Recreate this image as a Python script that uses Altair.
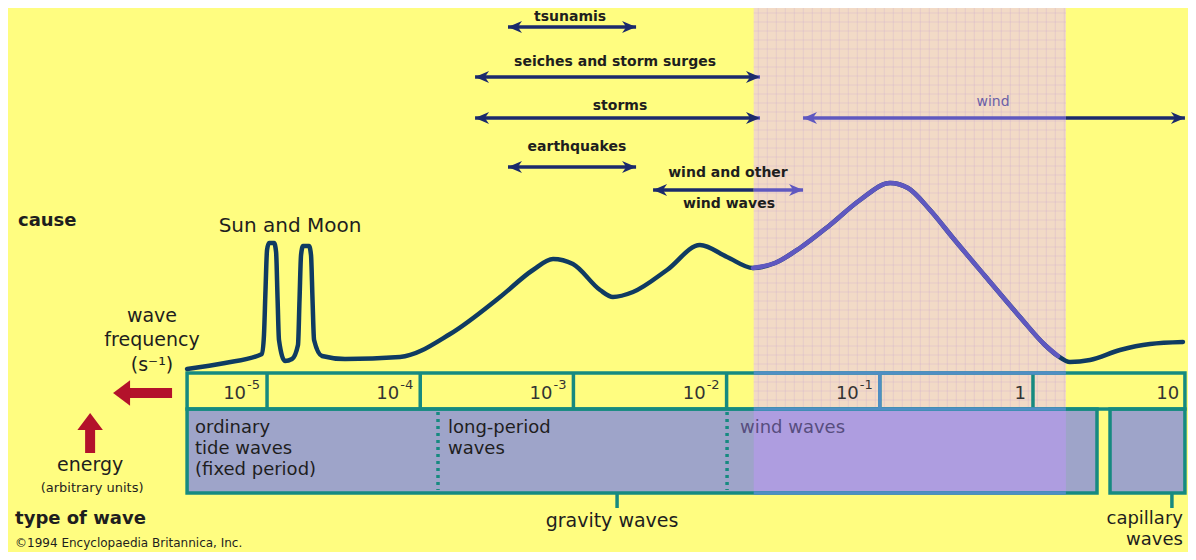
import altair as alt
import numpy as np
import pandas as pd

# x = log10(wave frequency / s^-1), y = energy (arbitrary units)
curve_logf = [-5.522, -5.274, -5.033, -5.020, -5.010, -5.000, -4.987, -4.954, -4.941, -4.931,
              -4.922, -4.883, -4.837, -4.798, -4.788, -4.778, -4.765, -4.726, -4.713, -4.703,
              -4.693, -4.641, -4.491, -4.132, -3.805, -3.479, -3.264, -3.133, -3.003, -2.826,
              -2.742, -2.611, -2.389, -2.174, -1.997, -1.828, -1.684, -1.521, -1.325, -1.129,
              -0.933, -0.816, -0.672, -0.522, -0.313, -0.085, 0.078, 0.163, 0.241, 0.372,
              0.568, 0.764, 0.979]
curve_energy = [3, 9, 18, 37, 82, 122, 129, 129, 120, 72,
                32, 11, 13, 27, 72, 117, 126, 126, 117, 72,
                32, 16, 13, 15, 38, 75, 102, 113, 108, 82,
                75, 80, 102, 127, 115, 104, 109, 124, 147, 172,
                189, 184, 162, 134, 96, 55, 27, 16, 10, 12,
                22, 28, 30]

tick_logf = [-5, -4, -3, -2, -1, 0, 1]
tick_base = ["10", "10", "10", "10", "10", "1", "10"]
tick_exp = ["-5", "-4", "-3", "-2", "-1", "", ""]
divider_logf = [-5, -4, -3, -2, -1, 0]

cause_from = [-3.427, -3.642, -3.642, -3.427, -2.480, -1.501]
cause_to = [-2.591, -1.782, -1.782, -2.591, -1.501, 0.992]
cause_level = [345, 295, 254, 205, 182, 254]

cause_text = ["tsunamis", "seiches and storm surges", "storms", "earthquakes",
              "wind and other", "wind waves"]
cause_text_x = [-3.022, -2.728, -2.696, -2.977, -1.991, -1.984]
cause_text_y = [355, 310, 266, 225, 199, 168]

wind_band = [-1.823, 0.215]
bar_ext = [-5.522, 0.992]
gravity_ext = [-5.522, 0.418]
capillary_ext = [0.503, 0.992]
type_dividers = [-3.884, -1.997]
bar_levels = [-1, -37, -121]   # top of scale bar, row separator, bottom of wave-type boxes

X_DOMAIN = [-6.691, 1.012]
Y_DOMAIN = [-180, 364]

BG = "#FFFD80"
PINK = "#F2DAC6"
GRID = "#C9A6CF"
BOXFILL = "#9EA4C9"
PURPLE_FILL = "#AE9DE0"
TEAL = "#168A80"
BLUE_LINE = "#4F8EC4"
NAVY = "#0F3B62"
ARROW = "#1B2A6C"
PURPLE = "#5F58C0"
RED = "#B3122B"
INK = "#1E1E1E"
FONT = "DejaVu Sans"

xs = alt.Scale(domain=X_DOMAIN, nice=False, zero=False)
ys = alt.Scale(domain=Y_DOMAIN, nice=False, zero=False)


def X(f="x"):
    return alt.X(f"{f}:Q", scale=xs, axis=None)


def Y(f="y"):
    return alt.Y(f"{f}:Q", scale=ys, axis=None)


layers = []

# shaded wind band with fine grid
band = pd.DataFrame({"x": [wind_band[0]], "x2": [wind_band[1]], "y": [bar_levels[1]], "y2": [Y_DOMAIN[1]]})
layers.append(alt.Chart(band).mark_rect(color=PINK).encode(x=X(), x2="x2:Q", y=Y(), y2="y2:Q"))
gv = pd.DataFrame({"x": np.arange(wind_band[0] + 0.03, wind_band[1], 9 / 153.2)})
gv["y"] = bar_levels[1]
gv["y2"] = Y_DOMAIN[1]
layers.append(alt.Chart(gv).mark_rule(color=GRID, strokeWidth=1, opacity=0.3).encode(x=X(), y=Y(), y2="y2:Q"))
gh = pd.DataFrame({"y": np.arange(bar_levels[1], Y_DOMAIN[1], 9)})
gh["x"] = wind_band[0]
gh["x2"] = wind_band[1]
layers.append(alt.Chart(gh).mark_rule(color=GRID, strokeWidth=1, opacity=0.3).encode(x=X(), x2="x2:Q", y=Y()))

# wave-type boxes
boxes = pd.DataFrame({"x": [gravity_ext[0], capillary_ext[0]], "x2": [gravity_ext[1], capillary_ext[1]],
                      "y": [bar_levels[1]] * 2, "y2": [bar_levels[2]] * 2})
layers.append(alt.Chart(boxes).mark_rect(color=BOXFILL).encode(x=X(), x2="x2:Q", y=Y(), y2="y2:Q"))
pb = pd.DataFrame({"x": [wind_band[0]], "x2": [wind_band[1]], "y": [bar_levels[1]], "y2": [bar_levels[2]]})
layers.append(alt.Chart(pb).mark_rect(color=PURPLE_FILL).encode(x=X(), x2="x2:Q", y=Y(), y2="y2:Q"))

outl = pd.DataFrame({"x": [bar_ext[0], gravity_ext[0], capillary_ext[0]],
                     "x2": [bar_ext[1], gravity_ext[1], capillary_ext[1]],
                     "y": [bar_levels[0], bar_levels[1], bar_levels[1]],
                     "y2": [bar_levels[1], bar_levels[2], bar_levels[2]]})
layers.append(alt.Chart(outl).mark_rect(fillOpacity=0, stroke=TEAL, strokeWidth=3.5).encode(
    x=X(), x2="x2:Q", y=Y(), y2="y2:Q"))
dv = pd.DataFrame({"x": divider_logf, "y": [bar_levels[0]] * 6, "y2": [bar_levels[1]] * 6})
layers.append(alt.Chart(dv).mark_rule(color=TEAL, strokeWidth=3.5).encode(x=X(), y=Y(), y2="y2:Q"))

# bluish lines inside wind band
bl = pd.DataFrame({"y": bar_levels, "x": [wind_band[0]] * 3, "x2": [wind_band[1]] * 3})
layers.append(alt.Chart(bl).mark_rule(color=BLUE_LINE, strokeWidth=3.5).encode(x=X(), x2="x2:Q", y=Y()))
bd = pd.DataFrame({"x": [-1], "y": [bar_levels[0]], "y2": [bar_levels[1]]})
layers.append(alt.Chart(bd).mark_rule(color=BLUE_LINE, strokeWidth=3.5).encode(x=X(), y=Y(), y2="y2:Q"))

# dotted dividers between wave types
dd = pd.DataFrame({"x": type_dividers, "y": [bar_levels[1] - 3] * 2, "y2": [bar_levels[2] + 3] * 2})
layers.append(alt.Chart(dd).mark_rule(color=TEAL, strokeWidth=3.5, strokeDash=[3, 4]).encode(
    x=X(), y=Y(), y2="y2:Q"))

# brackets to gravity / capillary labels
br = pd.DataFrame({"x": [-2.715, 0.907], "y": [bar_levels[2]] * 2, "y2": [-136, -136]})
layers.append(alt.Chart(br).mark_rule(color=TEAL, strokeWidth=3.5).encode(x=X(), y=Y(), y2="y2:Q"))

# energy curve
curve = pd.DataFrame({"x": curve_logf, "y": curve_energy})
layers.append(alt.Chart(curve).mark_line(color=NAVY, strokeWidth=4.5, interpolate="monotone",
                                         strokeCap="round", strokeJoin="round").encode(x=X(), y=Y()))
cp = curve[(curve.x >= wind_band[0] - 0.01) & (curve.x <= wind_band[1] - 0.01)]
layers.append(alt.Chart(cp).mark_line(color=PURPLE, strokeWidth=4.5, interpolate="monotone",
                                      strokeCap="round").encode(x=X(), y=Y()))

# cause arrows, split at the wind band
segs = []
heads_r = []
heads_l = []
for a, b, lv in zip(cause_from, cause_to, cause_level):
    s0, s1 = wind_band
    if a < s0:
        segs.append((a, min(b, s0), lv, ARROW))
    if b > s0 and a < s1:
        segs.append((max(a, s0), min(b, s1), lv, PURPLE))
    if b > s1:
        segs.append((max(a, s1), b, lv, ARROW))
    heads_l.append((a, lv, PURPLE if s0 <= a + 0.046 <= s1 else ARROW))
    heads_r.append((b, lv, PURPLE if s0 <= b - 0.046 <= s1 else ARROW))
sg = pd.DataFrame(segs, columns=["x", "x2", "y", "c"])
layers.append(alt.Chart(sg).mark_rule(strokeWidth=3.5).encode(
    x=X(), x2="x2:Q", y=Y(), color=alt.Color("c:N", scale=None)))
hr = pd.DataFrame(heads_r, columns=["x", "y", "c"])
hl = pd.DataFrame(heads_l, columns=["x", "y", "c"])
layers.append(alt.Chart(hr).mark_point(shape="M 0 0 L -2 -0.85 L -1.4 0 L -2 0.85 Z", filled=True,
                                       size=196, opacity=1).encode(
    x=X(), y=Y(), color=alt.Color("c:N", scale=None)))
layers.append(alt.Chart(hl).mark_point(shape="M 0 0 L 2 -0.85 L 1.4 0 L 2 0.85 Z", filled=True,
                                       size=196, opacity=1).encode(
    x=X(), y=Y(), color=alt.Color("c:N", scale=None)))

# red arrows (frequency to the left axis, energy up)
rl = pd.DataFrame({"x": [-5.905], "x2": [-5.620], "y": [-21]})
layers.append(alt.Chart(rl).mark_rule(color=RED, strokeWidth=10).encode(x=X(), x2="x2:Q", y=Y()))
ru = pd.DataFrame({"x": [-6.155], "y": [-55], "y2": [-81]})
layers.append(alt.Chart(ru).mark_rule(color=RED, strokeWidth=10).encode(x=X(), y=Y(), y2="y2:Q"))
rh1 = pd.DataFrame({"x": [-6.005], "y": [-21]})
layers.append(alt.Chart(rh1).mark_point(shape="M 0 0 L 2 -1.5 L 2 1.5 Z", filled=True, size=289,
                                        color=RED, opacity=1).encode(x=X(), y=Y()))
rh2 = pd.DataFrame({"x": [-6.155], "y": [-41]})
layers.append(alt.Chart(rh2).mark_point(shape="M 0 0 L -1.5 2 L 1.5 2 Z", filled=True, size=289,
                                        color=RED, opacity=1).encode(x=X(), y=Y()))


def texts(df, **kw):
    return alt.Chart(df).mark_text(font=FONT, baseline="middle", **kw).encode(
        x=X(), y=Y(), text="t:N",
        size=alt.Size("s:Q", scale=None), color=alt.Color("c:N", scale=None))


# cause labels
ct = pd.DataFrame({"t": cause_text, "x": cause_text_x, "y": cause_text_y, "s": [14] * 6, "c": [INK] * 6})
layers.append(texts(ct, align="center", fontWeight="bold"))
wt = pd.DataFrame({"t": ["wind"], "x": [-0.261], "y": [270], "s": [14], "c": ["#6B5FA8"]})
layers.append(texts(wt, align="center"))

# tick labels: base and superscript exponent
tb = pd.DataFrame({"t": tick_base, "x": tick_logf, "y": [-22] * 7, "s": [18] * 7, "c": ["#333333"] * 7})
tb_exp = tb[[e != "" for e in tick_exp]]
tb_plain = tb[[e == "" for e in tick_exp]]
layers.append(texts(tb_exp, align="right", dx=-21))
layers.append(texts(tb_plain, align="right", dx=-7))
te = pd.DataFrame({"t": tick_exp, "x": tick_logf, "y": [-13] * 7, "s": [13] * 7, "c": ["#333333"] * 7})
te = te[te.t != ""]
layers.append(texts(te, align="right", dx=-7))

# centred annotations
cen = pd.DataFrame({
    "t": ["Sun and Moon", "wave", "frequency", "(s⁻¹)", "energy", "(arbitrary units)", "gravity waves"],
    "x": [-4.850, -5.751, -5.751, -5.751, -6.155, -6.142, -2.748],
    "y": [146, 56, 32, 7, -93, -116, -149],
    "s": [20, 19, 19, 19, 19, 13, 19],
    "c": [INK] * 7})
layers.append(texts(cen, align="center"))

# left-aligned annotations
lf = pd.DataFrame({
    "t": ["ordinary", "tide waves", "(fixed period)", "long-period", "waves", "wind waves",
          "©1994 Encyclopaedia Britannica, Inc."],
    "x": [-5.470, -5.470, -5.470, -3.819, -3.819, -1.913, -6.645],
    "y": [-56, -77, -98, -56, -77, -56, -171],
    "s": [18, 18, 18, 18, 18, 18, 12],
    "c": [INK] * 5 + ["#574D7E", INK]})
layers.append(texts(lf, align="left"))
bold = pd.DataFrame({"t": ["cause", "type of wave"], "x": [-6.626, -6.645], "y": [151, -147],
                     "s": [18, 18], "c": [INK, INK]})
layers.append(texts(bold, align="left", fontWeight="bold"))

rt = pd.DataFrame({"t": ["capillary", "waves"], "x": [0.979, 0.979], "y": [-147, -168],
                   "s": [18, 18], "c": [INK, INK]})
layers.append(texts(rt, align="right"))

chart = alt.layer(*layers).properties(
    width=1180, height=544, padding=0, autosize="none", background=BG
).configure_view(stroke=None)

chart.save("out.html", embed_options={"renderer": "svg", "actions": False})
